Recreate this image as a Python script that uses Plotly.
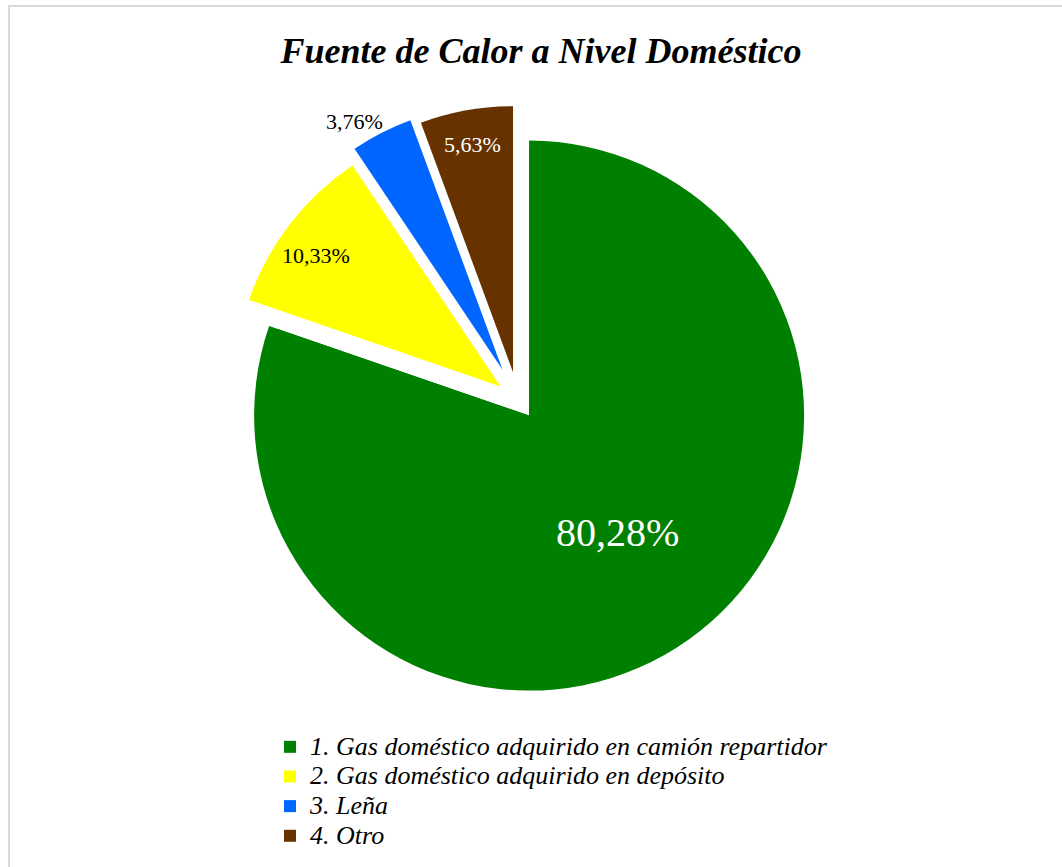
import math
import plotly.graph_objects as go

# Household heat source shares (%)
categories = [
    "1. Gas doméstico adquirido en camión repartidor",
    "2. Gas doméstico adquirido en depósito",
    "3. Leña",
    "4. Otro",
]
shares = [80.28, 10.33, 3.76, 5.63]
colors = ["#008000", "#FFFF00", "#0066FF", "#663300"]
label_colors = ["white", "black", "black", "white"]
label_sizes = [40, 22, 22, 22]
pulls = [0.072, 0.083, 0.128, 0.106]
# label placement: distance from the slice apex (fraction of radius) and
# angular position within the slice (0 = start edge, 1 = end edge)
label_radius = [0.532, 0.85, 1.087, 0.868]
label_angle = [0.495, 0.44, 0.23, 0.5]

W, H = 1062, 867
CX, CY = 518, 400   # pie centre in pixels
R_MAIN = 275        # radius of the large slice
R_SMALL = 266       # radius of the remaining slices
font = "Liberation Serif"


def domain(cx, cy, half):
    return dict(
        x=[(cx - half) / W, (cx + half) / W],
        y=[1 - (cy + half) / H, 1 - (cy - half) / H],
    )


def apex(pull, mid):
    d = pull * R_SMALL
    return CX + d * math.sin(mid), CY - d * math.cos(mid)


total = sum(shares)
starts, mids = [], []
cum = 0.0
for v in shares:
    starts.append(cum / total * 2 * math.pi)
    mids.append((cum + v / 2) / total * 2 * math.pi)
    cum += v

legend_labels = [f'<span style="font-size:26px">{c}</span>' for c in categories]

fig = go.Figure()

# Large slice at its full radius, drawn from its own (pulled) apex
gx, gy = apex(pulls[0], mids[0])
fig.add_trace(go.Pie(
    labels=legend_labels,
    values=shares,
    sort=False,
    direction="clockwise",
    rotation=0,
    marker=dict(colors=[colors[0]] + ["rgba(0,0,0,0)"] * 3, line=dict(width=0)),
    textinfo="none",
    hoverinfo="skip",
    showlegend=False,
    domain=domain(gx, gy, R_MAIN),
))

# All slices exploded around the common centre (and the legend)
fig.add_trace(go.Pie(
    labels=legend_labels,
    values=shares,
    sort=False,
    direction="clockwise",
    rotation=0,
    pull=pulls,
    marker=dict(colors=colors, line=dict(width=0)),
    textinfo="none",
    hoverinfo="label+percent",
    showlegend=True,
    domain=domain(CX, CY, R_SMALL * (1 + max(pulls))),
))

# Percentage labels placed relative to each slice
annotations = []
for i, v in enumerate(shares):
    ax, ay = apex(pulls[i], mids[i])
    r = R_MAIN if i == 0 else R_SMALL
    ang = starts[i] + label_angle[i] * (v / total * 2 * math.pi)
    px = ax + label_radius[i] * r * math.sin(ang)
    py = ay - label_radius[i] * r * math.cos(ang)
    annotations.append(dict(
        x=px / W, y=1 - py / H, xref="paper", yref="paper",
        text=f"{v:.2f}".replace(".", ",") + "%",
        showarrow=False, xanchor="center", yanchor="middle",
        font=dict(family=font, size=label_sizes[i], color=label_colors[i]),
    ))

fig.update_layout(
    width=W,
    height=H,
    margin=dict(l=0, r=0, t=0, b=0, autoexpand=False),
    paper_bgcolor="white",
    plot_bgcolor="white",
    title=dict(
        text="<b><i>Fuente de Calor a Nivel Doméstico</i></b>",
        font=dict(family=font, size=36, color="black"),
        x=541 / W,
        xanchor="center",
        y=1 - 50 / H,
        yanchor="middle",
    ),
    legend=dict(
        x=270 / W,
        xanchor="left",
        y=1 - 727 / H,
        yanchor="top",
        font=dict(family=font, size=20.5, color="black", style="italic"),
        bgcolor="rgba(0,0,0,0)",
        traceorder="normal",
    ),
    annotations=annotations,
    shapes=[dict(
        type="rect",
        xref="paper", yref="paper",
        x0=9 / W, x1=1.05,
        y0=-0.05, y1=1 - 6 / H,
        line=dict(color="#D9D9D9", width=2),
        fillcolor="rgba(0,0,0,0)",
    )],
)

fig.write_html("out.html")
